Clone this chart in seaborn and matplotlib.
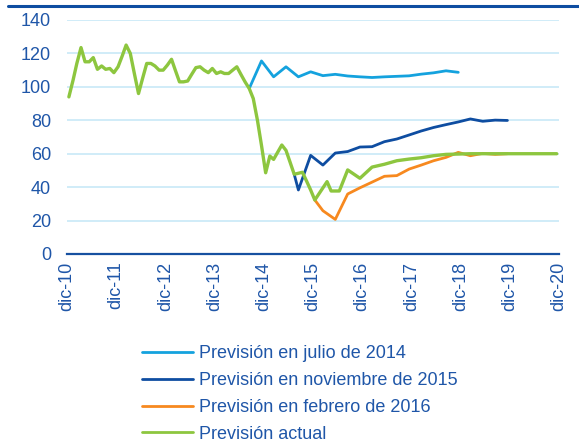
import matplotlib
matplotlib.use("Agg")
import matplotlib.pyplot as plt
from matplotlib.lines import Line2D
import pandas as pd
import seaborn as sns

# ---------------- data ----------------
fechas_actual = [
    "2011-01", "2011-02", "2011-03", "2011-04", "2011-05", "2011-06", "2011-07", "2011-08",
    "2011-09", "2011-10", "2011-11", "2011-12", "2012-01", "2012-02", "2012-03", "2012-04",
    "2012-05", "2012-06", "2012-07", "2012-08", "2012-09", "2012-10", "2012-11", "2012-12",
    "2013-01", "2013-02", "2013-03", "2013-04", "2013-05", "2013-06", "2013-07", "2013-08",
    "2013-09", "2013-10", "2013-11", "2013-12", "2014-01", "2014-02", "2014-03", "2014-04",
    "2014-05", "2014-06", "2014-07", "2014-08", "2014-09", "2014-10", "2014-11", "2014-12",
    "2015-01", "2015-02", "2015-03", "2015-04", "2015-05", "2015-06", "2015-07", "2015-08",
    "2015-09", "2015-10", "2015-11", "2015-12", "2016-01", "2016-04", "2016-05", "2016-07",
    "2016-09", "2016-12", "2017-03", "2017-06", "2017-09", "2017-12", "2018-03", "2018-06",
    "2018-09", "2018-12", "2019-03", "2019-06", "2019-09", "2019-12", "2020-03", "2020-06",
    "2020-09", "2020-12",
]
valores_actual = [
    94, 104, 114, 123.5, 115, 115, 117.5, 110.5,
    112.5, 110.5, 111, 108.5, 112, 118.5, 125, 120,
    108, 96, 105, 114, 114, 112.5, 110, 110,
    113, 116.5, 110, 103, 103, 103.5, 107.5, 111.5,
    112, 110, 108.5, 111, 108, 109, 108, 108,
    110, 112, 107.5, 103, 99, 93, 80, 65,
    48.6, 58.6, 56.6, 61, 65.2, 62, 55, 47.7,
    48.3, 48.9, 43.6, 38.3, 32.3, 43.3, 37.7, 37.7,
    50.3, 45.3, 52, 53.7, 55.8, 56.8, 57.6, 58.8,
    59.6, 59.8, 60, 60, 60, 60, 60, 60,
    60, 60,
]

fechas_jul14 = [
    "2014-09", "2014-12", "2015-03", "2015-06", "2015-09", "2015-12", "2016-03", "2016-06",
    "2016-09", "2016-12", "2017-03", "2017-06", "2017-09", "2017-12", "2018-03", "2018-06",
    "2018-09", "2018-12",
]
valores_jul14 = [
    99, 115.5, 106, 112, 106, 109, 106.7, 107.5,
    106.5, 106, 105.6, 106, 106.3, 106.6, 107.6, 108.4,
    109.6, 108.7,
]

fechas_nov15 = [
    "2015-08", "2015-09", "2015-12", "2016-03", "2016-06", "2016-09", "2016-12", "2017-03",
    "2017-06", "2017-09", "2017-12", "2018-03", "2018-06", "2018-09", "2018-12", "2019-03",
    "2019-06", "2019-09", "2019-12",
]
valores_nov15 = [
    47.7, 38.3, 59, 53.2, 60.4, 61.3, 64, 64.2,
    67.2, 68.8, 71.2, 73.6, 75.7, 77.4, 79, 80.8,
    79.4, 80.1, 79.9,
]

fechas_feb16 = [
    "2016-01", "2016-03", "2016-06", "2016-09", "2016-12", "2017-03", "2017-06", "2017-09",
    "2017-12", "2018-03", "2018-06", "2018-09", "2018-12", "2019-03", "2019-06", "2019-09",
    "2019-12",
]
valores_feb16 = [
    32.3, 25.9, 20.7, 35.9, 39.6, 43, 46.5, 46.9,
    50.8, 53.2, 55.8, 57.8, 60.8, 58.8, 60.2, 59.6,
    60,
]

series = [
    "Previsión en julio de 2014",
    "Previsión en noviembre de 2015",
    "Previsión en febrero de 2016",
    "Previsión actual",
]
colores = ["#14A2DE", "#0E4DA1", "#F7891F", "#8DC63F"]

tick_years = list(range(2011, 2022))
tick_labels = ["dic-10", "dic-11", "dic-12", "dic-13", "dic-14", "dic-15",
               "dic-16", "dic-17", "dic-18", "dic-19", "dic-20"]

# ---------------- build table ----------------
frames = []
for nombre, f, v in zip(series,
                        [fechas_jul14, fechas_nov15, fechas_feb16, fechas_actual],
                        [valores_jul14, valores_nov15, valores_feb16, valores_actual]):
    frames.append(pd.DataFrame({
        "fecha": pd.to_datetime(f) + pd.Timedelta(days=14),
        "valor": v,
        "serie": nombre,
    }))
df = pd.concat(frames, ignore_index=True)

# ---------------- style ----------------
sns.set_style("white")
plt.rcParams["font.family"] = ["Liberation Sans", "DejaVu Sans"]
TXT = "#1F56A8"
SPINE = "#1650A0"
GRID = "#CDEBF8"

fig = plt.figure(figsize=(5.79, 4.43), dpi=100)
ax = fig.add_axes([67 / 579, 1 - 254 / 443, (559 - 67) / 579, (254 - 20) / 443])

sns.lineplot(data=df, x="fecha", y="valor", hue="serie", hue_order=series,
             palette=dict(zip(series, colores)), linewidth=2.0, sort=False,
             estimator=None, ax=ax)

for ln in ax.get_lines():
    if ln.get_color() in ("#8DC63F", "#8dc63f"):
        ln.set_linewidth(2.4)

ax.set_ylim(0, 140)
ax.set_yticks(range(0, 141, 20))
ax.set_xlim(pd.Timestamp("2011-01-01"), pd.Timestamp("2021-01-01"))
ax.set_xticks([pd.Timestamp(f"{y}-01-01") for y in tick_years])
ax.set_xticklabels(tick_labels, rotation=90)
ax.set_xlabel("")
ax.set_ylabel("")

ax.grid(axis="y", color=GRID, linewidth=1.3)
ax.grid(axis="x", visible=False)
ax.set_axisbelow(True)
for s in ["top", "right", "left"]:
    ax.spines[s].set_visible(False)
ax.spines["bottom"].set_color(SPINE)
ax.spines["bottom"].set_linewidth(1.6)

ax.tick_params(axis="y", length=0, pad=11.5, labelsize=13, labelcolor=TXT)
ax.tick_params(axis="x", length=4, width=1.4, color=SPINE, pad=1.5,
               labelsize=13, labelcolor=TXT)

# legend
handles, labels = ax.get_legend_handles_labels()
if ax.get_legend() is not None:
    ax.get_legend().remove()
for h in handles:
    h.set_linewidth(2.0)
leg = fig.legend(handles, labels, loc="upper left",
                 bbox_to_anchor=(142 / 579, 1 - 345 / 443),
                 bbox_transform=fig.transFigure, frameon=False,
                 fontsize=13, borderpad=0, borderaxespad=0,
                 handlelength=2.8, handletextpad=0.35, labelspacing=0.55)
for t in leg.get_texts():
    t.set_color(TXT)

# top rule
fig.add_artist(Line2D([8 / 579, 1.0], [1 - 6 / 443, 1 - 6 / 443],
                      transform=fig.transFigure, color="#0E4DA1", linewidth=2.2))

fig.savefig("out.png", dpi=100)
